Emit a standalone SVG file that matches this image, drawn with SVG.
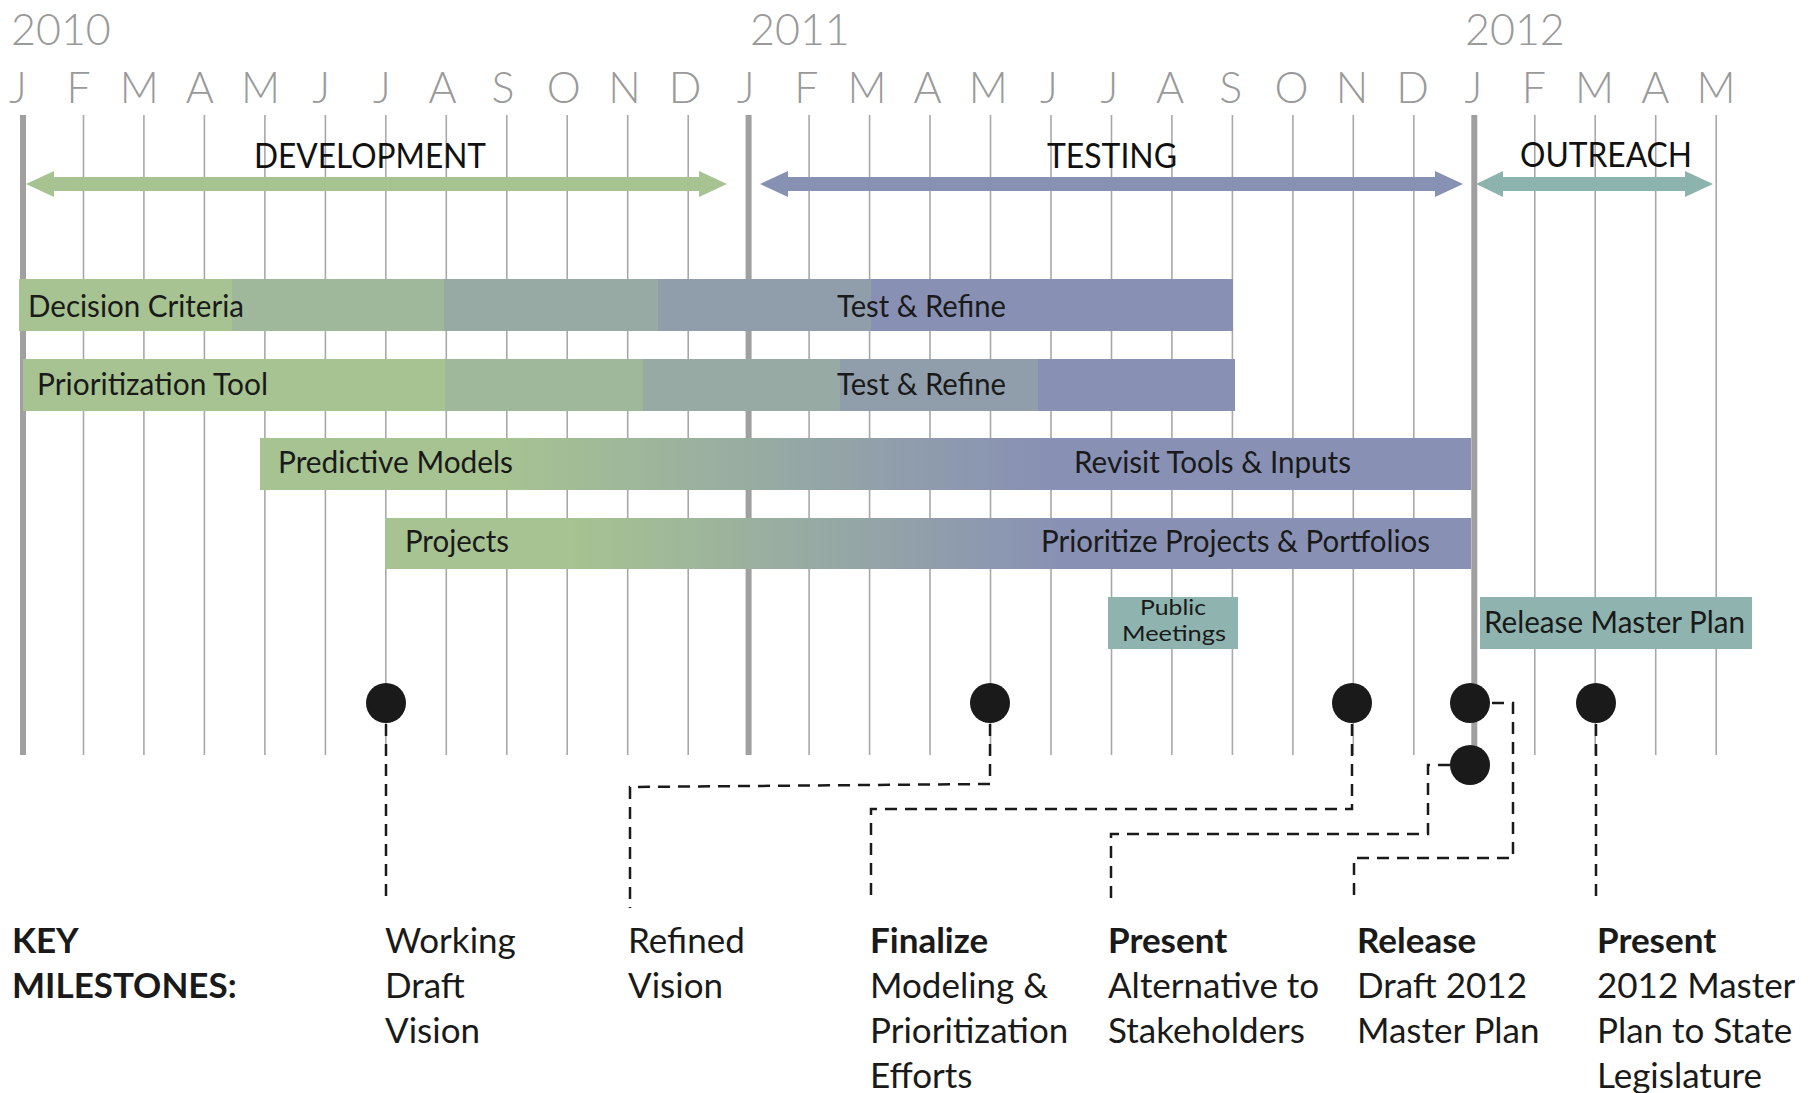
<svg xmlns="http://www.w3.org/2000/svg" width="1810" height="1093" viewBox="0 0 1810 1093">
<style>
.yr{font-family:Lato,'Open Sans',sans-serif;font-weight:300;font-size:43px;fill:#9a9a9a}
.mo{font-family:Lato,'Open Sans',sans-serif;font-weight:300;font-size:43px;fill:#9a9a9a;text-anchor:middle}
.grid{stroke:#a8a8a8;stroke-width:1.6}
.gridk{stroke:#a0a0a0;stroke-width:6}
.ph{font-family:Lato,'Open Sans',sans-serif;font-size:34px;fill:#111}
.bt{font-family:Lato,'Open Sans',sans-serif;font-size:30px;fill:#1a1a1a}
.bx{font-family:Lato,'Open Sans',sans-serif;fill:#1a1a1a}
.ml{font-family:Lato,'Open Sans',sans-serif;font-size:35px;fill:#1a1a1a}
.mb{font-weight:700}
.dot{fill:#1a1a1a}
.dash{fill:none;stroke:#1a1a1a;stroke-width:2.5;stroke-dasharray:12 8}
</style>
<defs>
<linearGradient id="g3" gradientUnits="userSpaceOnUse" x1="500" y1="0" x2="1040" y2="0">
<stop offset="0" stop-color="#a6c391"/><stop offset="0.5" stop-color="#97aaa3"/><stop offset="1" stop-color="#8891b4"/>
</linearGradient>
<linearGradient id="g4" gradientUnits="userSpaceOnUse" x1="570" y1="0" x2="1060" y2="0">
<stop offset="0" stop-color="#a6c391"/><stop offset="0.5" stop-color="#97aaa3"/><stop offset="1" stop-color="#8891b4"/>
</linearGradient>
</defs>
<rect width="1810" height="1093" fill="#fff"/>

<g id="years">
<text class="yr" x="11" y="45">2010</text>
<text class="yr" x="750" y="45">2011</text>
<text class="yr" x="1465" y="45">2012</text>
</g>
<g id="months">
<text class="mo" x="18" y="103">J</text>
<text class="mo" x="78.6" y="103">F</text>
<text class="mo" x="139.3" y="103">M</text>
<text class="mo" x="199.9" y="103">A</text>
<text class="mo" x="260.6" y="103">M</text>
<text class="mo" x="321.2" y="103">J</text>
<text class="mo" x="381.8" y="103">J</text>
<text class="mo" x="442.5" y="103">A</text>
<text class="mo" x="503.1" y="103">S</text>
<text class="mo" x="563.8" y="103">O</text>
<text class="mo" x="624.4" y="103">N</text>
<text class="mo" x="685" y="103">D</text>
<text class="mo" x="745.7" y="103">J</text>
<text class="mo" x="806.3" y="103">F</text>
<text class="mo" x="867" y="103">M</text>
<text class="mo" x="927.6" y="103">A</text>
<text class="mo" x="988.2" y="103">M</text>
<text class="mo" x="1048.9" y="103">J</text>
<text class="mo" x="1109.5" y="103">J</text>
<text class="mo" x="1170.2" y="103">A</text>
<text class="mo" x="1230.8" y="103">S</text>
<text class="mo" x="1291.4" y="103">O</text>
<text class="mo" x="1352.1" y="103">N</text>
<text class="mo" x="1412.7" y="103">D</text>
<text class="mo" x="1473.4" y="103">J</text>
<text class="mo" x="1534" y="103">F</text>
<text class="mo" x="1594.6" y="103">M</text>
<text class="mo" x="1655.3" y="103">A</text>
<text class="mo" x="1715.9" y="103">M</text>
</g>

<g id="grid">
<line class="gridk" x1="23" y1="115" x2="23" y2="755"/>
<line class="grid" x1="83.5" y1="115" x2="83.5" y2="755"/>
<line class="grid" x1="143.9" y1="115" x2="143.9" y2="755"/>
<line class="grid" x1="204.4" y1="115" x2="204.4" y2="755"/>
<line class="grid" x1="264.9" y1="115" x2="264.9" y2="755"/>
<line class="grid" x1="325.4" y1="115" x2="325.4" y2="755"/>
<line class="grid" x1="385.8" y1="115" x2="385.8" y2="755"/>
<line class="grid" x1="446.3" y1="115" x2="446.3" y2="755"/>
<line class="grid" x1="506.8" y1="115" x2="506.8" y2="755"/>
<line class="grid" x1="567.2" y1="115" x2="567.2" y2="755"/>
<line class="grid" x1="627.7" y1="115" x2="627.7" y2="755"/>
<line class="grid" x1="688.2" y1="115" x2="688.2" y2="755"/>
<line class="gridk" x1="748.6" y1="115" x2="748.6" y2="755"/>
<line class="grid" x1="809.1" y1="115" x2="809.1" y2="755"/>
<line class="grid" x1="869.6" y1="115" x2="869.6" y2="755"/>
<line class="grid" x1="930" y1="115" x2="930" y2="755"/>
<line class="grid" x1="990.5" y1="115" x2="990.5" y2="755"/>
<line class="grid" x1="1051" y1="115" x2="1051" y2="755"/>
<line class="grid" x1="1111.5" y1="115" x2="1111.5" y2="755"/>
<line class="grid" x1="1171.9" y1="115" x2="1171.9" y2="755"/>
<line class="grid" x1="1232.4" y1="115" x2="1232.4" y2="755"/>
<line class="grid" x1="1292.9" y1="115" x2="1292.9" y2="755"/>
<line class="grid" x1="1353.3" y1="115" x2="1353.3" y2="755"/>
<line class="grid" x1="1413.8" y1="115" x2="1413.8" y2="755"/>
<line class="gridk" x1="1474.3" y1="115" x2="1474.3" y2="750"/>
<line class="grid" x1="1534.8" y1="115" x2="1534.8" y2="755"/>
<line class="grid" x1="1595.2" y1="115" x2="1595.2" y2="755"/>
<line class="grid" x1="1655.7" y1="115" x2="1655.7" y2="755"/>
<line class="grid" x1="1716.2" y1="115" x2="1716.2" y2="755"/>
</g>

<g id="phase-development">
<polygon fill="#a6c391" points="26,184 54,171 54,177 699,177 699,171 727,184 699,197 699,191 54,191 54,197"/>
<text class="ph" x="254" y="168" textLength="232" lengthAdjust="spacingAndGlyphs">DEVELOPMENT</text>
</g>
<g id="phase-testing">
<polygon fill="#8791b3" points="760,184 788,171 788,177 1435,177 1435,171 1463,184 1435,197 1435,191 788,191 788,197"/>
<text class="ph" x="1047" y="168" textLength="130" lengthAdjust="spacingAndGlyphs">TESTING</text>
</g>
<g id="phase-outreach">
<polygon fill="#8db3ae" points="1476,184 1503,171 1503,177 1685,177 1685,171 1713,184 1685,197 1685,191 1503,191 1503,197"/>
<text class="ph" x="1520" y="167" textLength="172" lengthAdjust="spacingAndGlyphs">OUTREACH</text>
</g>

<g id="bar-decision-criteria">
<rect x="19" y="279" width="214" height="52" fill="#a6c391"/>
<rect x="232" y="279" width="213" height="52" fill="#9fb79a"/>
<rect x="444" y="279" width="215" height="52" fill="#97aaa3"/>
<rect x="658" y="279" width="214" height="52" fill="#909eab"/>
<rect x="871" y="279" width="362" height="52" fill="#8891b4"/>
<text class="bt" x="28" y="317" textLength="216" lengthAdjust="spacingAndGlyphs">Decision Criteria</text>
<text class="bt" x="837" y="317" textLength="169" lengthAdjust="spacingAndGlyphs">Test &amp; Refine</text>
</g>
<g id="bar-prioritization-tool">
<rect x="23" y="359" width="423" height="52" fill="#a6c391"/>
<rect x="445" y="359" width="199" height="52" fill="#9fb79a"/>
<rect x="643" y="359" width="198" height="52" fill="#97aaa3"/>
<rect x="840" y="359" width="199" height="52" fill="#909eab"/>
<rect x="1038" y="359" width="197" height="52" fill="#8891b4"/>
<text class="bt" x="37" y="395" textLength="231" lengthAdjust="spacingAndGlyphs">Prioritization Tool</text>
<text class="bt" x="837" y="395" textLength="169" lengthAdjust="spacingAndGlyphs">Test &amp; Refine</text>
</g>
<g id="bar-predictive-models">
<rect x="260" y="438" width="1211" height="52" fill="url(#g3)"/>
<text class="bt" x="278" y="473" textLength="235" lengthAdjust="spacingAndGlyphs">Predictive Models</text>
<text class="bt" x="1074" y="473" textLength="277" lengthAdjust="spacingAndGlyphs">Revisit Tools &amp; Inputs</text>
</g>
<g id="bar-projects">
<rect x="385" y="518" width="1086" height="51" fill="url(#g4)"/>
<text class="bt" x="405" y="552" textLength="104" lengthAdjust="spacingAndGlyphs">Projects</text>
<text class="bt" x="1041" y="552" textLength="389" lengthAdjust="spacingAndGlyphs">Prioritize Projects &amp; Portfolios</text>
</g>

<g id="box-public-meetings">
<rect x="1108" y="597" width="130" height="52" fill="#8fb4af"/>
<text class="bx" x="1173" y="615" font-size="21" text-anchor="middle" textLength="66" lengthAdjust="spacingAndGlyphs">Public</text>
<text class="bx" x="1174" y="641" font-size="21" text-anchor="middle" textLength="104" lengthAdjust="spacingAndGlyphs">Meetings</text>
</g>
<g id="box-release-master-plan">
<rect x="1480" y="597" width="272" height="52" fill="#8fb4af"/>
<text class="bx" x="1484" y="633" font-size="30" textLength="261" lengthAdjust="spacingAndGlyphs">Release Master Plan</text>
</g>

<g id="connectors">
<polyline class="dash" points="386,724 386,903"/>
<polyline class="dash" points="990,724 990,784 630,787 630,908"/>
<polyline class="dash" points="1352,724 1352,809 871,809 871,903"/>
<polyline class="dash" points="1450,765 1428,765 1428,834 1111,834 1111,900"/>
<polyline class="dash" points="1492,703 1513,703 1513,858 1354,858 1354,903"/>
<polyline class="dash" points="1596,724 1596,903"/>
</g>

<g id="milestone-dots">
<circle class="dot" cx="386" cy="703" r="20"/>
<circle class="dot" cx="990" cy="703" r="20"/>
<circle class="dot" cx="1352" cy="703" r="20"/>
<circle class="dot" cx="1470" cy="703" r="20"/>
<circle class="dot" cx="1470" cy="765" r="20"/>
<circle class="dot" cx="1596" cy="703" r="20"/>
</g>

<g id="key-milestones">
<text class="ml mb" x="12" y="953">KEY</text>
<text class="ml mb" x="12" y="998">MILESTONES:</text>
</g>
<g id="milestone-working-draft-vision">
<text class="ml" x="385" y="953">Working</text>
<text class="ml" x="385" y="998">Draft</text>
<text class="ml" x="385" y="1043">Vision</text>
</g>
<g id="milestone-refined-vision">
<text class="ml" x="628" y="953">Refined</text>
<text class="ml" x="628" y="998">Vision</text>
</g>
<g id="milestone-finalize">
<text class="ml mb" x="870" y="953">Finalize</text>
<text class="ml" x="870" y="998">Modeling &amp;</text>
<text class="ml" x="870" y="1043">Prioritization</text>
<text class="ml" x="870" y="1088">Efforts</text>
</g>
<g id="milestone-present-alternative">
<text class="ml mb" x="1108" y="953">Present</text>
<text class="ml" x="1108" y="998">Alternative to</text>
<text class="ml" x="1108" y="1043">Stakeholders</text>
</g>
<g id="milestone-release-draft">
<text class="ml mb" x="1357" y="953">Release</text>
<text class="ml" x="1357" y="998">Draft 2012</text>
<text class="ml" x="1357" y="1043">Master Plan</text>
</g>
<g id="milestone-present-legislature">
<text class="ml mb" x="1597" y="953">Present</text>
<text class="ml" x="1597" y="998">2012 Master</text>
<text class="ml" x="1597" y="1043">Plan to State</text>
<text class="ml" x="1597" y="1088">Legislature</text>
</g>
</svg>
